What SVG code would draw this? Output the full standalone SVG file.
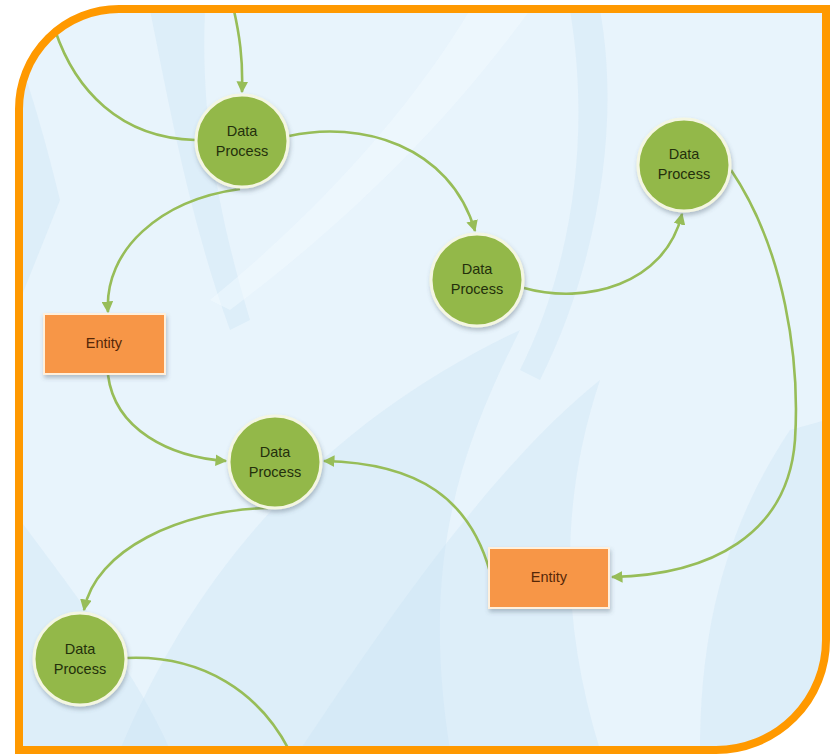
<svg xmlns="http://www.w3.org/2000/svg" width="830" height="756" viewBox="0 0 830 756">
<defs>
<style>
.bg{fill:#e8f4fc}
.sw{fill:#c9e1f3;opacity:.35}
.sw2{fill:#f4fbff;opacity:.45}
.conn{fill:none;stroke:#97bd58;stroke-width:2.6}
.dp circle{fill:#93b84a;stroke:#f4f6e2;stroke-width:3;filter:url(#sh)}
.en rect{fill:#f79646;stroke:#fff0dc;stroke-width:2;filter:url(#sh)}
.t{font-family:"Liberation Sans",Arial,sans-serif;font-size:14.5px;text-anchor:middle}
.dp text{fill:#24300c}
.en text{fill:#552708}
</style>
<filter id="sh" x="-20%" y="-20%" width="140%" height="150%">
<feDropShadow dx="1" dy="3" stdDeviation="2" flood-color="#4a5a6a" flood-opacity="0.35"/>
</filter>
<marker id="ah" viewBox="0 0 10 10" refX="9" refY="5" markerWidth="4.5" markerHeight="4.5" orient="auto" markerUnits="strokeWidth">
<path d="M0,0 L10,5 L0,10 z" fill="#97bd58"/>
</marker>
<clipPath id="inner">
<path d="M19,109 A100,100 0 0 1 119,9 L826,9 L826,640 A110,110 0 0 1 716,750 L19,750 Z"/>
</clipPath>
</defs>
<rect width="830" height="756" fill="#ffffff"/>
<g clip-path="url(#inner)">
<rect class="bg" x="0" y="0" width="830" height="756"/>
<path class="sw" d="M20,60 C40,120 50,160 60,200 L20,300 Z" opacity=".5"/>
<path class="sw" d="M150,10 L205,10 C200,120 220,220 250,320 L230,330 C190,220 170,110 150,10 Z" opacity=".2"/>
<path class="sw2" d="M470,10 L530,10 C450,120 350,220 230,310 L210,300 C320,210 410,110 470,10 Z"/>
<path class="sw" d="M570,10 L600,10 C620,120 600,260 540,380 L520,370 C575,260 590,130 570,10 Z" opacity=".2"/>
<path class="sw" d="M120,750 C200,560 330,420 520,330 C460,450 420,560 450,750 Z"/>
<path class="sw" d="M300,750 C400,600 500,460 600,380 C560,500 560,620 600,750 Z" opacity=".25"/>
<path class="sw" d="M20,520 C80,600 140,680 170,750 L20,750 Z" opacity=".25"/>
<path class="sw" d="M700,750 C700,620 730,520 790,430 L826,420 L826,750 Z" opacity=".3"/>
<g id="connectors">
<path class="conn" d="M232,2 C240,35 243,60 242,92" marker-end="url(#ah)"/>
<path class="conn" d="M55,30 C75,90 120,138 195,140"/>
<path class="conn" d="M289,136 C360,120 450,145 475,231" marker-end="url(#ah)"/>
<path class="conn" d="M240,189 C160,200 104,250 108,312" marker-end="url(#ah)"/>
<path class="conn" d="M524,288 C585,305 665,285 682,214" marker-end="url(#ah)"/>
<path class="conn" d="M731,170 C785,250 800,360 795,440 C788,535 710,575 612,577" marker-end="url(#ah)"/>
<path class="conn" d="M108,375 C115,430 170,457 226,461" marker-end="url(#ah)"/>
<path class="conn" d="M490,572 C470,500 420,463 324,461" marker-end="url(#ah)"/>
<path class="conn" d="M268,508 C180,510 95,550 84,610" marker-end="url(#ah)"/>
<path class="conn" d="M127,658 C200,655 262,690 294,760"/>
</g>
<g id="dp1" class="dp"><circle cx="242" cy="141" r="46"/><text class="t" x="242" y="136">Data</text><text class="t" x="242" y="156">Process</text></g>
<g id="dp2" class="dp"><circle cx="684" cy="165" r="46"/><text class="t" x="684" y="159">Data</text><text class="t" x="684" y="179">Process</text></g>
<g id="dp3" class="dp"><circle cx="477" cy="280" r="46"/><text class="t" x="477" y="274">Data</text><text class="t" x="477" y="294">Process</text></g>
<g id="dp4" class="dp"><circle cx="275" cy="462" r="46"/><text class="t" x="275" y="457">Data</text><text class="t" x="275" y="477">Process</text></g>
<g id="dp5" class="dp"><circle cx="80" cy="659" r="46"/><text class="t" x="80" y="654">Data</text><text class="t" x="80" y="674">Process</text></g>
<g id="e1" class="en"><rect x="44" y="314" width="121" height="60"/><text class="t" x="104" y="348">Entity</text></g>
<g id="e2" class="en"><rect x="489" y="548" width="120" height="60"/><text class="t" x="549" y="582">Entity</text></g>
</g>
<path d="M19,109 A100,100 0 0 1 119,9 L826,9 L826,640 A110,110 0 0 1 716,750 L19,750 Z" fill="none" stroke="#ff9900" stroke-width="8"/>
</svg>
